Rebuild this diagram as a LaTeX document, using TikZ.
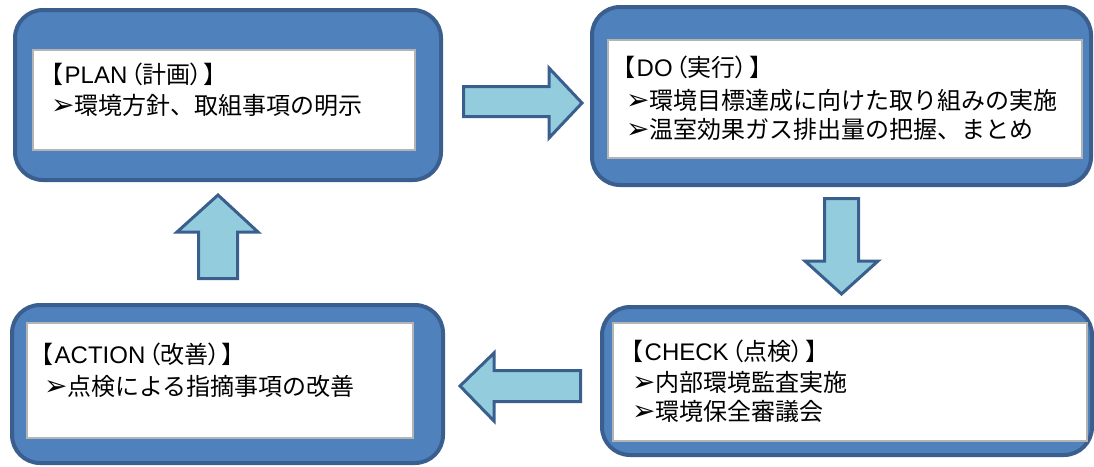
\documentclass[tikz,border=0pt]{standalone}
\usepackage{fontspec}
\newfontfamily\jp{Noto Sans CJK JP}
\newfontfamily\jpp[RawFeature=+palt]{Noto Sans CJK JP}
\newfontfamily\lat{Liberation Sans}
\newfontfamily\sym{DejaVu Sans}
\definecolor{boxfill}{HTML}{4F81BD}
\definecolor{boxline}{HTML}{3A5F8E}
\definecolor{arrfill}{HTML}{93CDDD}
\definecolor{innerline}{HTML}{B4B4B4}
\newcommand{\mk}{{\sym\fontsize{28}{28}\selectfont ➢}}
\newcommand{\ttltext}[2]{{\jpp 【}\hspace{2pt}{\lat #1}\hspace{3pt}{\jpp （#2）}\hspace{2pt}{\jpp 】}}
\begin{document}
\begin{tikzpicture}[x=1pt,y=-1pt,
  outerbox/.style={draw=boxline, fill=boxfill, line width=4pt, rounded corners=28pt, inner sep=0pt},
  innerbox/.style={draw=innerline, fill=white, line width=1.2pt, inner sep=0pt},
  blockarrow/.style={draw=boxline, fill=arrfill, line width=3pt, line join=miter},
  txt/.style={anchor=west, inner sep=0pt, font=\jp\fontsize{24}{28}\selectfont, text=black},
  ttl/.style={anchor=west, inner sep=0pt, font=\fontsize{24}{28}\selectfont, text=black}]
\useasboundingbox (0,0) rectangle (1094,466);

% outer boxes
\node[outerbox, minimum width=426pt, minimum height=170pt] (plan) at (228,95) {};
\node[outerbox, minimum width=499pt, minimum height=178pt] (do) at (841.5,96) {};
\node[outerbox, minimum width=490pt, minimum height=148pt] (check) at (847,381) {};
\node[outerbox, minimum width=431pt, minimum height=158pt] (act) at (227.5,384) {};

% inner boxes
\node[innerbox, minimum width=382pt, minimum height=100pt] (planin) at (224,100) {};
\node[innerbox, minimum width=474pt, minimum height=118pt] (doin) at (845,99) {};
\node[innerbox, minimum width=474pt, minimum height=118pt] (checkin) at (850,382) {};
\node[innerbox, minimum width=386pt, minimum height=115pt] (actin) at (220,380.5) {};

% texts
\node[ttl] (p1) at (50.5,74) {\ttltext{PLAN}{計画}};
\node[txt] (p2) at (51,105) {\mk 環境方針、取組事項の明示};

\node[ttl] (d1) at (622.5,67) {\ttltext{DO}{実行}};
\node[txt] (d2) at (626,100) {\mk 環境目標達成に向けた取り組みの実施};
\node[txt] (d3) at (626,129) {\mk 温室効果ガス排出量の把握、まとめ};

\node[ttl] (c1) at (630.5,351) {\ttltext{CHECK}{点検}};
\node[txt] (c2) at (632,382) {\mk 内部環境監査実施};
\node[txt] (c3) at (632,411) {\mk 環境保全審議会};

\node[ttl] (a1) at (40.5,354) {\ttltext{ACTION}{改善}};
\node[txt] (a2) at (44,386) {\mk 点検による指摘事項の改善};

% block arrows
\draw[blockarrow] (463.5,86.5) -- (549,86.5) -- (549,68) -- (582,103) -- (549,138) -- (549,116.5) -- (463.5,116.5) -- cycle;
\draw[blockarrow] (824.5,198.5) -- (858.5,198.5) -- (858.5,261) -- (878,261) -- (841.5,294) -- (805,261) -- (824.5,261) -- cycle;
\draw[blockarrow] (580.5,370.5) -- (494,370.5) -- (494,353) -- (460,386) -- (494,421) -- (494,401.5) -- (580.5,401.5) -- cycle;
\draw[blockarrow] (198.5,278.5) -- (198.5,232) -- (177,232) -- (218,195) -- (258,232) -- (237.5,232) -- (237.5,278.5) -- cycle;
\end{tikzpicture}
\end{document}
